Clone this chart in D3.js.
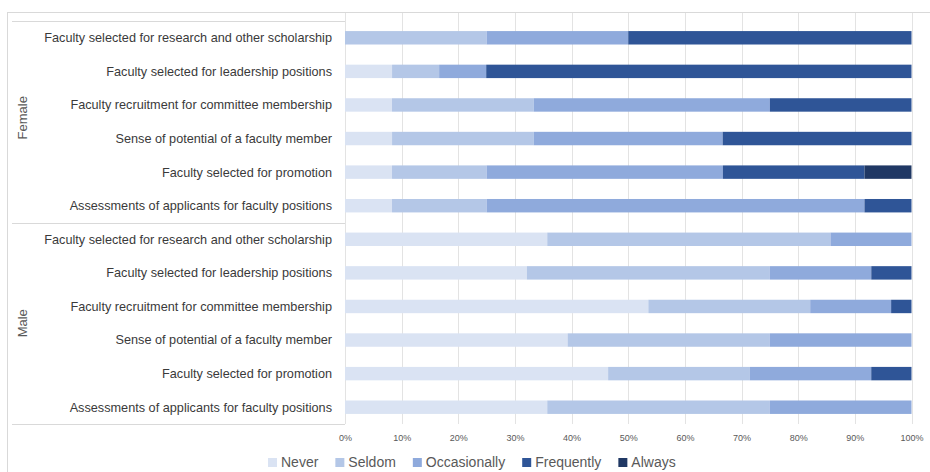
<!DOCTYPE html>
<html>
<head>
<meta charset="utf-8">
<script src="https://cdn.jsdelivr.net/npm/d3@7"></script>
<style>
  html, body { margin: 0; padding: 0; background: #fff; }
  svg { display: block; font-family: "Liberation Sans", Arial, sans-serif; }
</style>
</head>
<body>
<svg id="chart" width="930" height="472"></svg>
<script>
// ---- data ----
const categories = [
  "Faculty selected for research and other scholarship",
  "Faculty selected for leadership positions",
  "Faculty recruitment for committee membership",
  "Sense of potential of a faculty member",
  "Faculty selected for promotion",
  "Assessments of applicants for faculty positions"
];
const groups = ["Female", "Male"];
const seriesNames = ["Never", "Seldom", "Occasionally", "Frequently", "Always"];

const femaleNever        = [0, 8.3, 8.3, 8.3, 8.3, 8.3];
const femaleSeldom       = [25, 8.3, 25, 25, 16.7, 16.7];
const femaleOccasionally = [25, 8.3, 41.7, 33.3, 41.7, 66.7];
const femaleFrequently   = [50, 75, 25, 33.3, 25, 8.3];
const femaleAlways       = [0, 0, 0, 0, 8.3, 0];

const maleNever          = [35.7, 32.1, 53.6, 39.3, 46.4, 35.7];
const maleSeldom         = [50, 42.9, 28.6, 35.7, 25, 39.3];
const maleOccasionally   = [14.3, 17.9, 14.3, 25, 21.4, 25];
const maleFrequently     = [0, 7.1, 3.6, 0, 7.1, 0];
const maleAlways         = [0, 0, 0, 0, 0, 0];

const tickValues = [0, 0.1, 0.2, 0.3, 0.4, 0.5, 0.6, 0.7, 0.8, 0.9, 1];
const colors = ["#dae3f3", "#b4c7e7", "#8faadc", "#2f5597", "#203864"];

// ---- build table ----
const bySeries = {
  Female: [femaleNever, femaleSeldom, femaleOccasionally, femaleFrequently, femaleAlways],
  Male: [maleNever, maleSeldom, maleOccasionally, maleFrequently, maleAlways]
};
const rows = [];
groups.forEach(g => {
  categories.forEach((c, i) => {
    const r = { id: g + "|" + c, group: g, category: c };
    seriesNames.forEach((s, k) => { r[s] = bySeries[g][k][i]; });
    rows.push(r);
  });
});

const svg = d3.select("#chart");

const x = d3.scaleLinear().domain([0, 1]).range([345, 911.5]);
const y = d3.scaleBand().domain(rows.map(r => r.id)).range([21, 424]).paddingInner(0.6).paddingOuter(0.3);
const color = d3.scaleOrdinal().domain(seriesNames).range(colors);

const stack = d3.stack().keys(seriesNames).offset(d3.stackOffsetExpand);
const stacked = stack(rows);

const frame = "#d9d9d9";
// outer frame
svg.append("line").attr("x1", 7).attr("x2", 930).attr("y1", 12.5).attr("y2", 12.5).attr("stroke", frame);
svg.append("line").attr("x1", 7.5).attr("x2", 7.5).attr("y1", 12).attr("y2", 472).attr("stroke", frame);

// gridlines
svg.append("g").selectAll("line").data(tickValues).join("line")
  .attr("x1", d => Math.round(x(d)) + 0.5).attr("x2", d => Math.round(x(d)) + 0.5)
  .attr("y1", 13).attr("y2", 424)
  .attr("stroke", "#e3e3e3");

// label panel lines
const panelLines = [21, 223, 424];
svg.append("g").selectAll("line").data(panelLines).join("line")
  .attr("x1", 12).attr("x2", 345).attr("y1", d => d + 0.5).attr("y2", d => d + 0.5)
  .attr("stroke", frame);

// bars
svg.append("g").selectAll("g").data(stacked).join("g")
  .attr("fill", d => color(d.key))
  .selectAll("rect").data(d => d).join("rect")
  .attr("x", d => x(d[0]))
  .attr("width", d => Math.max(0, x(d[1]) - x(d[0])))
  .attr("y", d => y(d.data.id))
  .attr("height", y.bandwidth());

// category labels
svg.append("g").selectAll("text").data(rows).join("text")
  .attr("x", 332).attr("y", d => y(d.id) + y.bandwidth() / 2)
  .attr("dy", "0.35em").attr("text-anchor", "end")
  .attr("font-size", "12.7px").attr("fill", "#3a3a3a")
  .text(d => d.category);

// group labels
groups.forEach(g => {
  const ids = rows.filter(r => r.group === g).map(r => r.id);
  const cy = (y(ids[0]) + y(ids[ids.length - 1]) + y.bandwidth()) / 2 - (g === "Female" ? 4 : 0);
  svg.append("text")
    .attr("transform", `translate(22,${cy}) rotate(-90)`)
    .attr("text-anchor", "middle").attr("dy", "0.35em")
    .attr("font-size", "13px").attr("fill", "#595959")
    .text(g);
});

// x axis
const xAxis = svg.append("g").attr("transform", "translate(0,432)")
  .call(d3.axisBottom(x).tickValues(tickValues).tickFormat(d3.format(".0%")).tickSize(0));
xAxis.select(".domain").remove();
xAxis.selectAll("text").attr("font-size", "9px").attr("fill", "#595959")
  .attr("font-family", "\"Liberation Sans\", Arial, sans-serif");

// legend
const legendFont = 14;
const lg = svg.append("g");
let cx = 0;
seriesNames.forEach(s => {
  const t = lg.append("text").attr("x", cx + 13).attr("y", 462).attr("dy", "0.35em")
    .attr("font-size", legendFont + "px").attr("fill", "#595959").text(s);
  lg.append("rect").attr("x", cx).attr("y", 458).attr("width", 9).attr("height", 9).attr("fill", color(s));
  const w = t.node().getComputedTextLength();
  cx += 13 + w + 17;
});
lg.attr("transform", `translate(${268},0)`);
</script>
</body>
</html>
